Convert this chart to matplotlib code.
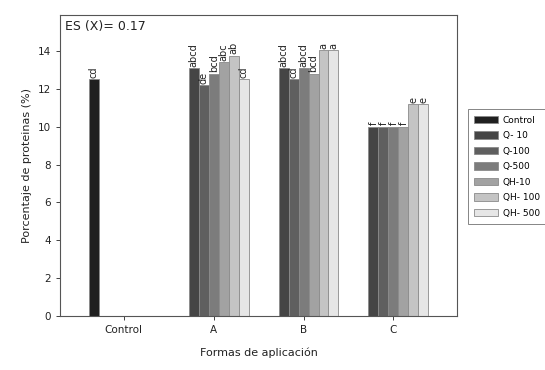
import numpy as np
import matplotlib
matplotlib.use("Agg")
import matplotlib.pyplot as plt

# ------------------------------------------------------------------
# Data
# ------------------------------------------------------------------
groups = ["Control", "A", "B", "C"]
series = ["Control", "Q- 10", "Q-100", "Q-500", "QH-10", "QH- 100", "QH- 500"]
colors = ["#202020", "#454545", "#5f5f5f", "#7c7c7c", "#a2a2a2", "#c4c4c4", "#e6e6e6"]

# one list per series, value per group (None = no bar)
control = [12.5, None, None, None]
q10 = [None, 13.1, 13.1, 10.0]
q100 = [None, 12.2, 12.5, 10.0]
q500 = [None, 12.8, 13.1, 10.0]
qh10 = [None, 13.4, 12.8, 10.0]
qh100 = [None, 13.75, 14.05, 11.2]
qh500 = [None, 12.5, 14.05, 11.2]
values = [control, q10, q100, q500, qh10, qh100, qh500]

lab_control = ["cd", "", "", ""]
lab_q10 = ["", "abcd", "abcd", "f"]
lab_q100 = ["", "de", "cd", "f"]
lab_q500 = ["", "bcd", "abcd", "f"]
lab_qh10 = ["", "abc", "bcd", "f"]
lab_qh100 = ["", "ab", "a", "e"]
lab_qh500 = ["", "cd", "a", "e"]
letters = [lab_control, lab_q10, lab_q100, lab_q500, lab_qh10, lab_qh100, lab_qh500]

# ------------------------------------------------------------------
# Plot
# ------------------------------------------------------------------
fig = plt.figure(figsize=(5.45, 3.70), dpi=100)
ax = fig.add_axes([0.110, 0.146, 0.729, 0.813])

x = np.arange(len(groups))
w = 0.111
for i, (vals, labs) in enumerate(zip(values, letters)):
    xs = [xi + (i - 3) * w for xi, v in zip(x, vals) if v is not None]
    hs = [v for v in vals if v is not None]
    ls = [l for v, l in zip(vals, labs) if v is not None]
    ax.bar(xs, hs, width=w, color=colors[i], edgecolor="#8a8a8a",
           linewidth=0.6, label=series[i])
    for xx, hh, ll in zip(xs, hs, ls):
        ax.text(xx, hh + 0.08, ll, rotation=90, ha="center", va="bottom",
                fontsize=7, color="#222222")

ax.set_xlim(-0.71, 3.71)
ax.set_ylim(0, 15.9)
ax.set_xticks(x)
ax.set_xticklabels(groups)
ax.set_yticks(np.arange(0, 15, 2))
ax.tick_params(direction="out", length=3, width=0.6, labelsize=7.5,
               colors="#222222")
for sp in ax.spines.values():
    sp.set_linewidth(0.8)
    sp.set_color("#555555")

ax.set_xlabel("Formas de aplicación", fontsize=8, color="#222222", labelpad=9)
ax.set_ylabel("Porcentaje de proteinas (%)", fontsize=8, color="#222222")
ax.text(0.012, 0.985, "ES (X)= 0.17", transform=ax.transAxes, ha="left",
        va="top", fontsize=9, color="#222222")

leg = fig.legend(loc="upper left", bbox_to_anchor=(0.850, 0.717),
                 fontsize=6.5, frameon=True, fancybox=False,
                 handlelength=2.6, handleheight=0.9, labelspacing=0.72,
                 borderpad=0.7, handletextpad=0.6)
leg.get_frame().set_edgecolor("#666666")
leg.get_frame().set_linewidth(0.7)

fig.savefig("out.png", dpi=100)
